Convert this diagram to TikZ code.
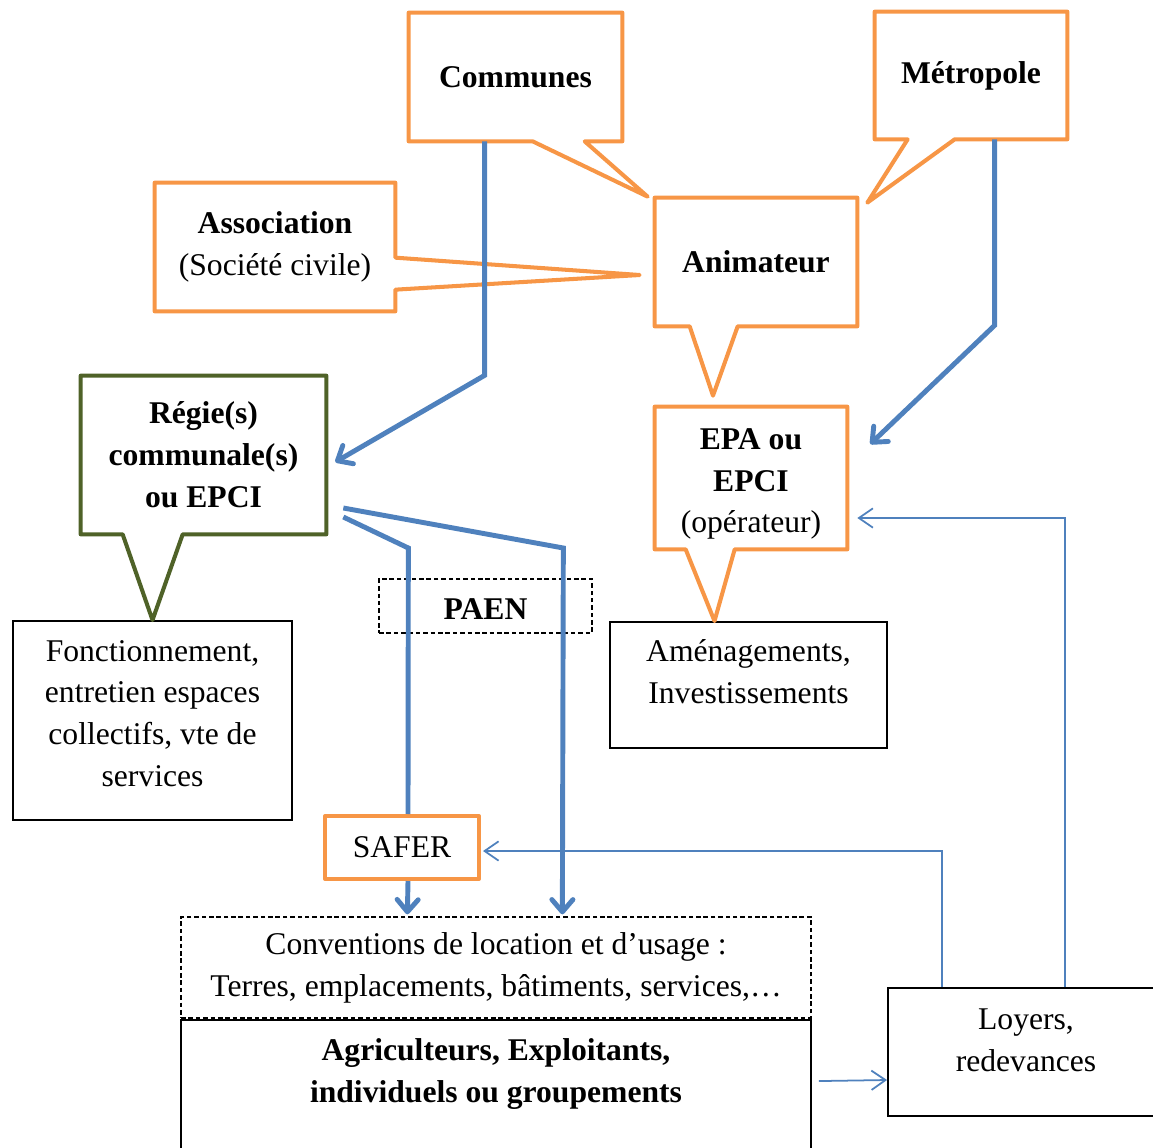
\documentclass[tikz,border=0pt]{standalone}
\usepackage{fontspec}
\setmainfont{Liberation Serif}
\usepackage{tikz}
\usetikzlibrary{arrows.meta,calc}
\definecolor{calloutorange}{RGB}{247,150,70}
\definecolor{flowblue}{RGB}{79,129,189}
\definecolor{regiegreen}{RGB}{79,98,40}

\begin{document}
\begin{tikzpicture}[
  x=0.02cm, y=-0.02cm,
  txt/.style={align=center, inner sep=0pt, font=\fontsize{18}{23.8}\selectfont},
  plainbox/.style={txt, draw, line width=1.1pt},
  dashbox/.style={txt, draw, line width=0.8pt, dash pattern=on 2.6pt off 1.6pt},
  orangeline/.style={draw=calloutorange, line width=2.3pt, line join=round},
  greenline/.style={draw=regiegreen, line width=2.3pt, line join=round},
  bigline/.style={draw=flowblue, line width=2.8pt},
  bigflow/.style={bigline, -{Straight Barb[round, length=7pt, width=12pt]}},
  thinflow/.style={draw=flowblue, line width=1pt, -{Straight Barb[length=8pt, width=11pt]}}
]
  \path[use as bounding box, clip] (0,0) rectangle (1153,1147);
  % Callout nodes (outlines drawn below)
  \node[txt, minimum width=4.26cm, minimum height=2.56cm] (communes)  at (515.5,77)  {\textbf{Communes}};
  \node[txt, minimum width=3.84cm, minimum height=2.54cm] (metropole) at (971,75.5)  {\textbf{Métropole}};
  \node[txt, minimum width=4.8cm,  minimum height=2.56cm] (assoc)     at (275,247)   {\textbf{Association}\\(Société civile)};
  \node[txt, minimum width=4.04cm, minimum height=2.56cm] (animateur) at (756,262)   {\textbf{Animateur}};
  \node[txt, minimum width=4.9cm,  minimum height=3.16cm] (regie)     at (203.5,455) {\textbf{Régie(s)}\\\textbf{communale(s)}\\\textbf{ou EPCI}};
  \node[txt, minimum width=3.84cm, minimum height=2.84cm] (epa)       at (751,478)   {};
  \node[txt] (epa-txt) at ($(epa)+(0,6)$) {\textbf{EPA ou}\\\textbf{EPCI}\\(opérateur)};
  % Plain boxes
  \node[plainbox, minimum width=5.58cm, minimum height=3.98cm] (fonct)  at (152.5,720.5) {};
  \node[txt] (fonct-txt) at ($(fonct)+(0,-7)$) {Fonctionnement,\\entretien espaces\\collectifs, vte de\\services};
  \node[plainbox, minimum width=5.54cm, minimum height=2.52cm] (amenag) at (748.5,685) {};
  \node[txt] (amenag-txt) at ($(amenag)+(0,-13)$) {Aménagements,\\Investissements};
  \node[dashbox, minimum width=4.26cm, minimum height=1.08cm] (paen) at (485.5,606) {};
  \node[txt] (paen-txt) at ($(paen)+(0,3)$) {\textbf{PAEN}};
  \node[txt, draw=calloutorange, line width=2.3pt, line join=round,
        minimum width=3.08cm, minimum height=1.26cm] (safer) at (402,847.5) {SAFER};
  \node[dashbox, minimum width=12.6cm, minimum height=2.02cm] (conv) at (496,967.5)
        {Conventions de location et d’usage :\\Terres, emplacements, bâtiments, services,…};
  \node[plainbox, minimum width=12.6cm, minimum height=2.8cm] (agri) at (496,1090) {};
  \node[txt] (agri-txt) at ($(agri)+(0,-16)$)
        {\textbf{Agriculteurs, Exploitants,}\\\textbf{individuels ou groupements}};
  \node[plainbox, minimum width=5.44cm, minimum height=2.56cm] (loyers) at (1024,1052) {};
  \node[txt] (loyers-txt) at ($(loyers)+(2,-12)$) {Loyers,\\redevances};
  % Callout outlines
  \draw[orangeline] (communes.north west) -- (communes.north east) -- (communes.south east)
    -- ($(communes.south west)+(176,0)$) -- ($(animateur.north west)+(-7,-1)$)
    -- ($(communes.south west)+(124,0)$) -- (communes.south west) -- cycle;
  \draw[orangeline] (metropole.north west) -- (metropole.north east) -- (metropole.south east)
    -- ($(metropole.south west)+(80,0)$) -- ($(animateur.north east)+(10,5)$)
    -- ($(metropole.south west)+(33,0)$) -- (metropole.south west) -- cycle;
  \draw[orangeline] (assoc.north west) -- (assoc.north east) -- ($(assoc.north east)+(0,75)$)
    -- ($(animateur.west)+(-15,13)$) -- ($(assoc.north east)+(0,107)$)
    -- (assoc.south east) -- (assoc.south west) -- cycle;
  \draw[orangeline] (animateur.north west) -- (animateur.north east) -- (animateur.south east)
    -- ($(animateur.south west)+(83,0)$) -- ($(epa.north)+(-38,-11)$)
    -- ($(animateur.south west)+(35,0)$) -- (animateur.south west) -- cycle;
  \draw[greenline] (regie.north west) -- (regie.north east) -- (regie.south east)
    -- ($(regie.south west)+(102,0)$) -- (fonct.north)
    -- ($(regie.south west)+(42,0)$) -- (regie.south west) -- cycle;
  \draw[orangeline] (epa.north west) -- (epa.north east) -- (epa.south east)
    -- ($(epa.south west)+(80,0)$) -- ($(amenag.north)+(-34,0)$)
    -- ($(epa.south west)+(31,0)$) -- (epa.south west) -- cycle;
  % Thin flows (payments)
  \draw[thinflow] ($(loyers.north west)+(178,0)$) |- ($(epa.east)+(10,40)$);
  \draw[thinflow] ($(loyers.north west)+(55,0)$) |- ($(safer.east)+(2,3.5)$);
  \draw[thinflow] ($(agri.north east)+(7,62)$) -- ($(loyers.west)+(0,28)$);
  % Thick flows
  \draw[bigflow] ($(communes.south west)+(76,0)$) -- ++(0,234) -- ($(regie.east)+(9,7)$);
  \draw[bigflow] ($(metropole.south west)+(120,0)$) -- ++(0,186) -- ($(epa.east)+(23,-34)$);
  \draw[bigflow] ($(regie.east)+(17,53)$) -- ++(220,40) -- ($(conv.north west)+(382,-2)$);
  \draw[bigline] ($(regie.east)+(17,62)$) -- ++(65,31) -- ($(safer.north)+(6,0)$);
  \draw[bigflow] ($(safer.south)+(6,0)$) -- ($(conv.north west)+(227,-2)$);
\end{tikzpicture}
\end{document}
